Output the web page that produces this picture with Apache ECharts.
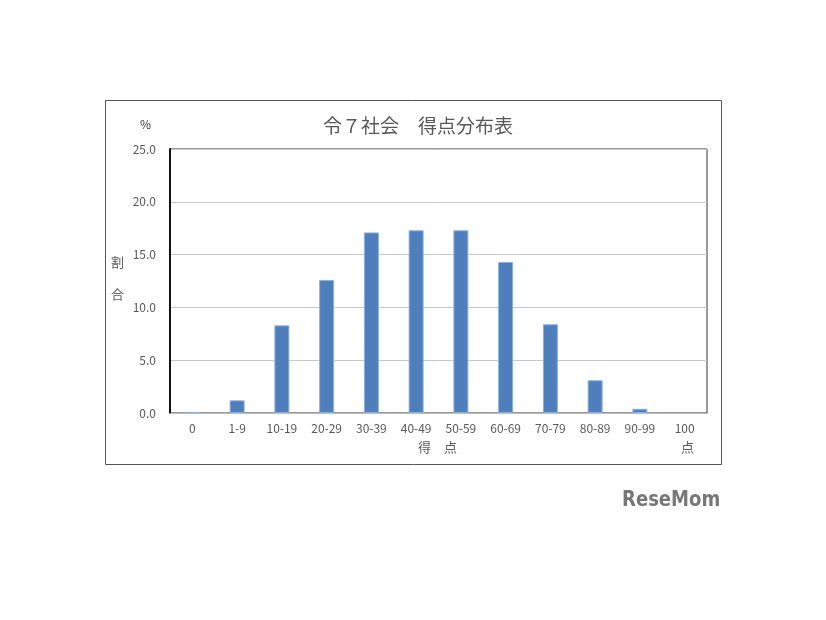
<!DOCTYPE html>
<html><head><meta charset="utf-8">
<script src="https://cdn.jsdelivr.net/npm/echarts@6/dist/echarts.min.js"></script>
<style>html,body{margin:0;padding:0;background:#fff;}#c{width:826px;height:620px;}</style>
</head><body><div id="c"></div>
<script>
const categories = ['0','1-9','10-19','20-29','30-39','40-49','50-59','60-69','70-79','80-89','90-99','100'];
const values = [0.1, 1.2, 8.3, 12.6, 17.1, 17.3, 17.3, 14.3, 8.4, 3.1, 0.4, 0.0];
const yTicks = [0, 5, 10, 15, 20, 25];
const titleText = '令７社会　得点分布表';

const font = '"Noto Sans CJK JP", "Noto Sans", sans-serif';
const chart = echarts.init(document.getElementById('c'), null, {renderer:'canvas'});
chart.setOption({
  animation:false,
  backgroundColor:'#fff',
  title:{text:titleText, left:413, top:111, textAlign:'center',
    textStyle:{fontSize:19, fontWeight:'normal', color:'#595959', fontFamily:font}},
  grid:{left:170, top:149, width:537, height:264, show:true, borderColor:'#333', borderWidth:1, containLabel:false},
  xAxis:{type:'category', data:categories,
    axisLine:{lineStyle:{color:'#bbb', width:1}}, axisTick:{show:false},
    axisLabel:{color:'#595959', fontSize:12, fontFamily:font, margin:9}},
  yAxis:{type:'value', min:yTicks[0], max:yTicks[yTicks.length-1], interval:5,
    axisLine:{show:true, lineStyle:{color:'#111', width:2}}, axisTick:{show:false},
    splitLine:{lineStyle:{color:'#c8c8c8', width:1}},
    axisLabel:{color:'#595959', fontSize:12, fontFamily:font, margin:14, formatter:v=>v.toFixed(1)}},
  series:[{type:'bar', barWidth:15,
    data:values.map(v=>({value:v, itemStyle:{borderWidth: v>0?1:0}})),
    itemStyle:{color:'#4F7EBC', borderColor:'#8DB0DC', borderWidth:1}}],
  graphic:[
    {type:'rect', shape:{x:105.5, y:100.5, width:616, height:364}, style:{fill:'none', stroke:'#555', lineWidth:1}, z:-1},
    {type:'text', left:140, top:118, style:{text:'%', fontSize:12, fill:'#333', fontFamily:font}},
    {type:'text', left:111, top:256, style:{text:'割', fontSize:13, fill:'#595959', fontFamily:font}},
    {type:'text', left:111, top:288, style:{text:'合', fontSize:13, fill:'#595959', fontFamily:font}},
    {type:'text', left:418, top:441, style:{text:'得　点', fontSize:13, fill:'#595959', fontFamily:font}},
    {type:'text', left:681, top:441, style:{text:'点', fontSize:13, fill:'#595959', fontFamily:font}},
    {type:'text', x:622, y:489, scaleX:0.82, style:{text:'ReseMom', fontSize:22, fontWeight:'bold', fill:'#777', fontFamily:'"DejaVu Sans", sans-serif'}}
  ]
});
</script></body></html>
